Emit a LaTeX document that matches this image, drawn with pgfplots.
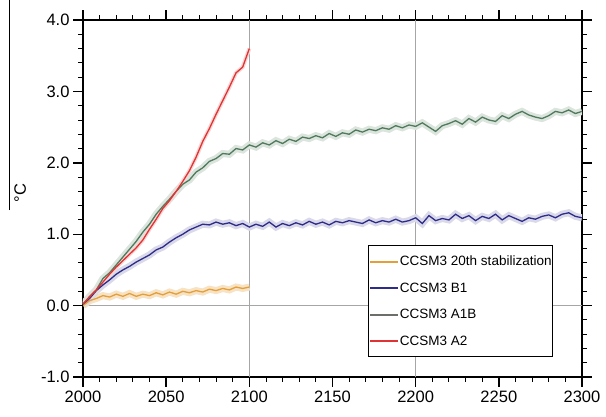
\documentclass[border=0pt]{standalone}
\usepackage{pgfplots}
\pgfplotsset{compat=1.18}
\usepackage{fontspec}
\setmainfont{Liberation Sans}

\definecolor{cstab}{HTML}{E3A03A}
\definecolor{cbone}{HTML}{2E2C88}
\definecolor{caone}{HTML}{4F7A5C}
\definecolor{catwo}{HTML}{E03434}
\definecolor{cagray}{HTML}{6A6F6C}

\pgfplotstableread{
year t
2000 0.00
2004 0.07
2008 0.10
2012 0.14
2016 0.12
2020 0.16
2024 0.13
2028 0.17
2032 0.13
2036 0.16
2040 0.14
2044 0.18
2048 0.15
2052 0.19
2056 0.16
2060 0.20
2064 0.18
2068 0.21
2072 0.19
2076 0.23
2080 0.21
2084 0.24
2088 0.22
2092 0.26
2096 0.24
2100 0.26
}\stab

\pgfplotstableread{
year t
2000 0.02
2004 0.10
2008 0.21
2012 0.29
2016 0.36
2020 0.44
2024 0.50
2028 0.55
2032 0.61
2036 0.66
2040 0.71
2044 0.78
2048 0.82
2052 0.89
2056 0.95
2060 1.00
2064 1.06
2068 1.10
2072 1.14
2076 1.13
2080 1.17
2084 1.14
2088 1.16
2092 1.12
2096 1.15
2100 1.10
2104 1.14
2108 1.11
2112 1.17
2116 1.10
2120 1.15
2124 1.12
2128 1.16
2132 1.13
2136 1.18
2140 1.14
2144 1.17
2148 1.13
2152 1.18
2156 1.16
2160 1.19
2164 1.17
2168 1.15
2172 1.20
2176 1.16
2180 1.19
2184 1.17
2188 1.21
2192 1.17
2196 1.19
2200 1.23
2204 1.15
2208 1.26
2212 1.19
2216 1.22
2220 1.20
2224 1.28
2228 1.22
2232 1.26
2236 1.19
2240 1.25
2244 1.22
2248 1.28
2252 1.20
2256 1.26
2260 1.22
2264 1.18
2268 1.23
2272 1.21
2276 1.25
2280 1.27
2284 1.23
2288 1.28
2292 1.30
2296 1.25
2300 1.23
}\bone

\pgfplotstableread{
year t
2000 0.02
2004 0.13
2008 0.22
2012 0.38
2016 0.46
2020 0.57
2024 0.68
2028 0.79
2032 0.90
2036 1.03
2040 1.14
2044 1.28
2048 1.39
2052 1.49
2056 1.60
2060 1.70
2064 1.76
2068 1.87
2072 1.93
2076 2.02
2080 2.06
2084 2.13
2088 2.12
2092 2.20
2096 2.18
2100 2.25
2104 2.22
2108 2.28
2112 2.25
2116 2.31
2120 2.27
2124 2.33
2128 2.30
2132 2.36
2136 2.34
2140 2.38
2144 2.35
2148 2.41
2152 2.37
2156 2.42
2160 2.40
2164 2.46
2168 2.43
2172 2.47
2176 2.45
2180 2.49
2184 2.47
2188 2.52
2192 2.49
2196 2.53
2200 2.51
2204 2.56
2208 2.50
2212 2.44
2216 2.52
2220 2.55
2224 2.59
2228 2.54
2232 2.62
2236 2.57
2240 2.64
2244 2.60
2248 2.58
2252 2.66
2256 2.62
2260 2.68
2264 2.72
2268 2.67
2272 2.64
2276 2.62
2280 2.66
2284 2.72
2288 2.70
2292 2.74
2296 2.69
2300 2.72
}\aone

\pgfplotstableread{
year t
2000 0.02
2004 0.12
2008 0.22
2012 0.33
2016 0.44
2020 0.54
2024 0.63
2028 0.72
2032 0.81
2036 0.92
2040 1.07
2044 1.21
2048 1.36
2052 1.47
2056 1.60
2060 1.74
2064 1.89
2068 2.08
2072 2.30
2076 2.48
2080 2.68
2084 2.87
2088 3.06
2092 3.26
2096 3.34
2100 3.60
}\atwo

\begin{document}
\begin{tikzpicture}
\begin{axis}[
  name=main,
  scale only axis,
  width=499pt,height=357pt,
  xmin=2000,xmax=2300,ymin=-1,ymax=4,
  xtick={2000,2050,...,2300},
  ytick={-1,0,...,4},
  major tick length=0pt,
  axis line style={line width=1.6pt},
  /pgf/number format/assume math mode=true,
  tick label style={font=\fontsize{16.5}{18}\selectfont},
  xticklabel style={/pgf/number format/1000 sep={},yshift=-10pt},
  yticklabel style={/pgf/number format/fixed,/pgf/number format/fixed zerofill,
    /pgf/number format/precision=1,xshift=-10pt},
  ylabel={°C},
  ylabel style={at={(axis description cs:-0.126,0.515)},anchor=center,
    font=\fontsize{16.5}{18}\selectfont},
  legend style={at={(axis description cs:0.942,0.056)},anchor=south east,
    draw=black,line width=1pt,fill=white,
    font=\fontsize{13.5}{15}\selectfont,
    row sep=11.5pt,inner xsep=0.5pt,inner ysep=8pt,
    nodes={inner xsep=0.5pt}},
  legend cell align=left,
  legend image code/.code={\draw[#1,line width=2pt] (0pt,0pt) -- (28pt,0pt);},
]
% grid lines
\draw[gray!70,line width=1.2pt] (axis cs:2100,-1) -- (axis cs:2100,4);
\draw[gray!70,line width=1.2pt] (axis cs:2200,-1) -- (axis cs:2200,4);
\draw[gray!70,line width=1.2pt] (axis cs:2000,0) -- (axis cs:2300,0);
% light spread envelopes
\addplot[cstab!30,line width=7pt,forget plot] table[x=year,y=t] {\stab};
\addplot[cbone!18,line width=7pt,forget plot] table[x=year,y=t] {\bone};
\addplot[caone!20,line width=7pt,forget plot] table[x=year,y=t] {\aone};
\addplot[catwo!20,line width=4pt,forget plot] table[x=year,y=t] {\atwo};
% ensemble means
\addplot[cstab,line width=1.3pt] table[x=year,y=t] {\stab};
\addlegendentry{CCSM3 20th stabilization}
\addplot[cbone,line width=1.3pt] table[x=year,y=t] {\bone};
\addlegendentry{CCSM3 B1}
\addplot[caone,line width=1.3pt,legend image post style={cagray}] table[x=year,y=t] {\aone};
\addlegendentry{CCSM3 A1B}
\addplot[catwo,line width=1.3pt] table[x=year,y=t] {\atwo};
\addlegendentry{CCSM3 A2}
\end{axis}
% tick marks, outward, at the axis frame (499pt x 357pt)
\foreach \i in {0,...,30}{
  \pgfmathsetmacro{\len}{ifthenelse(mod(\i,5)==0,10,5)}
  \pgfmathsetmacro{\lw}{ifthenelse(mod(\i,5)==0,1.4,0.9)}
  \draw[line width=\lw pt] ([xshift=\i*16.6333pt]main.south west) -- ++(0,-\len pt);
  \draw[line width=\lw pt] ([xshift=\i*16.6333pt]main.north west) -- ++(0,\len pt);
}
\foreach \i in {0,...,25}{
  \pgfmathsetmacro{\len}{ifthenelse(mod(\i,5)==0,10,5)}
  \pgfmathsetmacro{\lw}{ifthenelse(mod(\i,5)==0,1.4,0.9)}
  \draw[line width=\lw pt] ([yshift=\i*14.28pt]main.south west) -- ++(-\len pt,0);
  \draw[line width=\lw pt] ([yshift=\i*14.28pt]main.south east) -- ++(\len pt,0);
}
\draw[line width=0.8pt] ([shift={(-74pt,167pt)}]main.south west) -- ++(0,210pt);
\pgfresetboundingbox
\path[use as bounding box] ([shift={(-83pt,-39pt)}]main.south west) rectangle ++(606pt,416pt);
\end{tikzpicture}
\end{document}
